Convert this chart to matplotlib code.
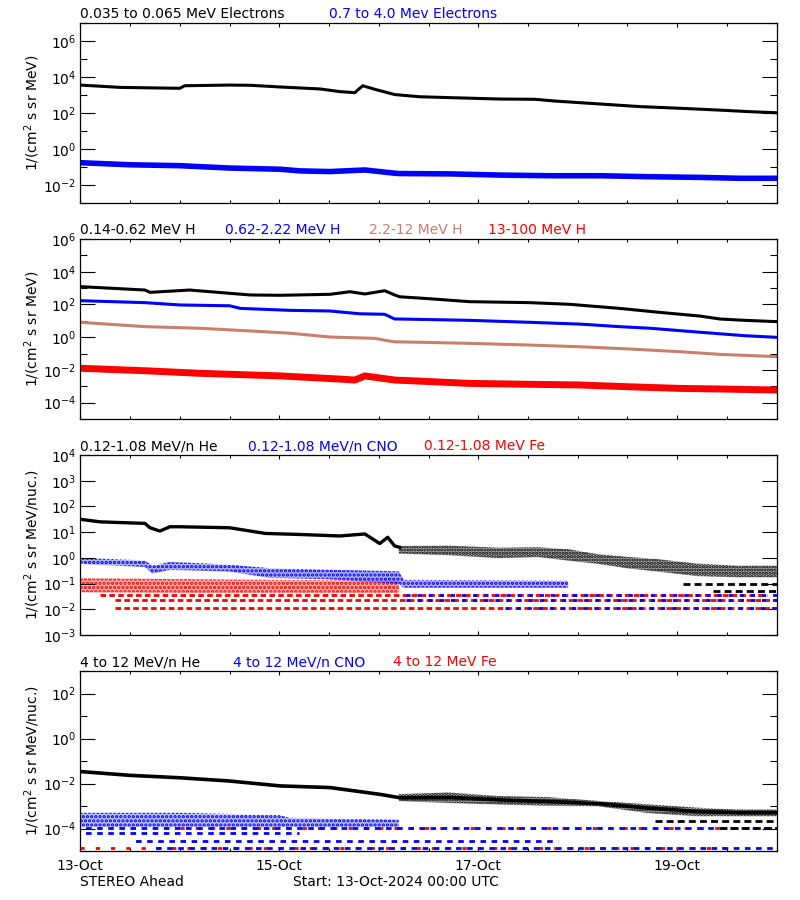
import numpy as np
import matplotlib
matplotlib.use('Agg')
import matplotlib.pyplot as plt
from matplotlib.ticker import FixedLocator, FuncFormatter, NullFormatter

plt.rcParams['font.family'] = ['DejaVu Sans']
plt.rcParams['mathtext.default'] = 'regular'
plt.rcParams['hatch.linewidth'] = 1.6

BROWN = '#c8806a'

# ---------------- Panel 1: electrons (time in days since 13-Oct 00:00) ----------
e1_t = [0, 0.40, 1.0, 1.05, 1.50, 1.71, 2.01, 2.41, 2.61, 2.76, 2.79, 2.84, 2.96,
        3.16, 3.41, 3.72, 4.22, 4.57, 4.77, 5.22, 5.63, 6.03, 6.43, 6.73, 7.0]
e1_low = [3700, 2750, 2450, 3400, 3700, 3600, 2900, 2250, 1600, 1400, 2000, 3400, 2150,
          1100, 830, 740, 620, 600, 480, 330, 235, 190, 150, 123, 107]
e2_t = [0, 0.5, 1.0, 1.5, 2.01, 2.21, 2.51, 2.86, 3.16, 3.21, 3.72, 4.22, 4.72, 5.22,
        5.72, 6.23, 6.63, 7.0]
e2_high = [0.18, 0.138, 0.123, 0.091, 0.078, 0.063, 0.058, 0.071, 0.047, 0.045, 0.043,
           0.037, 0.034, 0.034, 0.030, 0.0275, 0.0245, 0.0245]

# ---------------- Panel 2: protons ----------------
h1_t = [0, 0.65, 0.70, 1.10, 1.50, 1.71, 2.01, 2.51, 2.71, 2.86, 3.06, 3.16, 3.21, 3.51,
        3.91, 4.52, 4.92, 5.42, 5.82, 6.23, 6.43, 6.68, 7.0]
h1 = [1230, 760, 550, 760, 480, 380, 363, 417, 600, 437, 690, 380, 295, 224, 148, 129,
      102, 57.5, 33, 19.5, 12.9, 10.7, 8.9]
h2_t = [0, 0.65, 1.0, 1.5, 1.61, 2.11, 2.51, 2.81, 3.06, 3.16, 3.21, 3.91, 4.52, 5.02,
        5.42, 5.73, 6.23, 6.68, 7.0]
h2 = [170, 129, 93, 83, 57.5, 43.6, 39.8, 26.9, 25.1, 12.9, 12.9, 10.7, 8.1, 6.3, 4.4,
      3.5, 2.0, 1.23, 0.98]
h3_t = [0, 0.65, 1.2, 1.71, 2.11, 2.51, 2.96, 3.06, 3.16, 3.41, 3.91, 4.52, 5.02, 5.52,
        6.03, 6.43, 7.0]
h3 = [8.1, 4.4, 3.5, 2.4, 1.74, 1.02, 0.85, 0.65, 0.52, 0.49, 0.42, 0.33, 0.26, 0.19,
      0.129, 0.089, 0.065]
h4_t = [0, 0.65, 1.2, 2.01, 2.61, 2.76, 2.86, 3.16, 3.31, 3.91, 4.52, 5.02, 5.52, 6.03,
        6.43, 7.0]
h4 = [0.0126, 0.0089, 0.0062, 0.0043, 0.00275, 0.0024, 0.0043, 0.0024, 0.0022, 0.0015,
      0.00132, 0.0012, 0.00093, 0.00074, 0.00068, 0.00059]

# ---------------- Panel 3: 0.12-1.08 MeV/n ions ----------------
he3_t = [0, 0.20, 0.65, 0.70, 0.80, 0.90, 1.0, 1.5, 1.86, 2.21, 2.61, 2.86, 3.01, 3.09,
         3.16, 3.21]
he3 = [31.6, 25.1, 21.9, 14.8, 11, 16.2, 16.2, 14.8, 8.9, 8.1, 7.1, 8.5, 3.6, 6.3, 2.9, 2.57]
he3_env_t = [3.2, 3.7, 4.2, 4.6, 4.9, 5.2, 5.5, 5.8, 6.2, 6.6, 7.0]
he3_env_hi = [2.9, 3.0, 2.5, 2.6, 2.2, 1.4, 1.1, 0.9, 0.6, 0.5, 0.5]
he3_env_lo = [1.5, 1.3, 1.0, 1.1, 0.8, 0.6, 0.4, 0.3, 0.2, 0.18, 0.18]
he3_levels = [0.1, 0.051]
he3_level_spans = [(6.06, 7.0), (6.36, 7.0)]

cno3_env_t = [0, 0.65, 0.72, 0.9, 1.5, 1.9, 2.5, 3.2, 3.25, 4.9]
cno3_env_hi = [1.0, 0.8, 0.5, 0.7, 0.55, 0.4, 0.35, 0.3, 0.14, 0.13]
cno3_env_lo = [0.6, 0.45, 0.25, 0.35, 0.3, 0.17, 0.15, 0.1, 0.07, 0.07]
cno3_levels = [0.035, 0.023, 0.0115]
cno3_level_spans = [(3.2, 7.0), (3.2, 7.0), (4.2, 7.0)]

fe3_env_t = [0, 1.0, 2.0, 3.2]
fe3_env_hi = [0.16, 0.15, 0.14, 0.13]
fe3_env_lo = [0.047, 0.045, 0.045, 0.045]
fe3_levels = [0.035, 0.023, 0.0115]
fe3_level_spans = [(0.2, 6.9), (0.35, 7.0), (0.35, 7.0)]

# ---------------- Panel 4: 4-12 MeV/n ions ----------------
he4_t = [0, 0.5, 1.0, 1.5, 2.01, 2.51, 3.01, 3.21, 3.72, 4.22, 4.72, 5.22, 5.72, 6.23,
         6.63, 7.0]
he4 = [0.034, 0.023, 0.018, 0.0129, 0.0078, 0.0066, 0.0033, 0.00234, 0.0024, 0.00186,
       0.00158, 0.00126, 0.0008, 0.00056, 0.0005, 0.0005]
he4_env_t = [3.2, 3.7, 4.2, 4.7, 5.2, 5.7, 6.2, 6.6, 7.0]
he4_env_hi = [0.0034, 0.004, 0.0028, 0.0025, 0.0017, 0.0012, 0.00085, 0.0007, 0.0007]
he4_env_lo = [0.0017, 0.0014, 0.0012, 0.00105, 0.00100, 0.0005, 0.00036, 0.00036, 0.00036]
he4_levels = [2.15e-4, 1.1e-4]
he4_level_spans = [(5.78, 7.0), (6.43, 7.0)]

cno4_env_t = [0, 1.0, 2.0, 2.1, 3.2]
cno4_env_hi = [5e-4, 5e-4, 4e-4, 3e-4, 2.5e-4]
cno4_env_lo = [1.2e-4, 1.2e-4, 1.2e-4, 1.2e-4, 1.2e-4]
cno4_levels = [1.1e-4, 6.6e-5, 2.8e-5, 1.35e-5]
cno4_level_spans = [(0.0, 7.0), (0.0, 2.2), (0.5, 4.8), (0.7, 7.0)]

fe4_levels = [1.1e-4, 1.35e-5]
fe4_level_spans = [(1.0, 6.7), (0.0, 6.5)]

# ---------------- figure ----------------
fig = plt.figure(figsize=(8, 9), dpi=100)
L, W, H = 80.3 / 800, 696.4 / 800, 180 / 900
bottoms = [1 - 203.3 / 900, 1 - 419 / 900, 1 - 635 / 900, 1 - 851 / 900]
axes = [fig.add_axes([L, b, W, H]) for b in bottoms]

ylims = [(1e-3, 1e7), (1e-5, 1e6), (1e-3, 1e4), (1e-5, 1e3)]
label_exps = [list(range(-2, 7, 2)), list(range(-4, 7, 2)), list(range(-3, 5)),
              list(range(-4, 3, 2))]
minor_exps = [list(range(-3, 8, 2)), list(range(-5, 6, 2)), [], list(range(-5, 4, 2))]
ylabels = ['1/(cm$^2$ s sr MeV)', '1/(cm$^2$ s sr MeV)',
           '1/(cm$^2$ s sr MeV/nuc.)', '1/(cm$^2$ s sr MeV/nuc.)']

fmt = FuncFormatter(lambda v, p: r'10$^{%d}$' % int(round(np.log10(v))))
for i, ax in enumerate(axes):
    ax.set_yscale('log')
    ax.set_ylim(*ylims[i])
    ax.set_xlim(0, 7)
    ax.yaxis.set_major_locator(FixedLocator([10.0 ** e for e in label_exps[i]]))
    ax.yaxis.set_minor_locator(FixedLocator([10.0 ** e for e in minor_exps[i]]))
    ax.yaxis.set_major_formatter(fmt)
    ax.yaxis.set_minor_formatter(NullFormatter())
    ax.xaxis.set_major_locator(FixedLocator([0, 2, 4, 6]))
    ax.xaxis.set_minor_locator(FixedLocator(np.arange(0, 7.01, 0.5)))
    ax.tick_params(axis='y', which='major', direction='in', length=10.8, width=0.8,
                   left=True, right=True, labelsize=10, pad=3)
    ax.tick_params(axis='y', which='minor', direction='in', length=5.2, width=0.8,
                   left=True, right=True)
    ax.tick_params(axis='x', which='major', direction='in', length=3.2, width=0.8,
                   top=True, bottom=True, labelsize=10, pad=6)
    ax.tick_params(axis='x', which='minor', direction='in', length=2.0, width=0.8,
                   top=True, bottom=True)
    for s in ax.spines.values():
        s.set_linewidth(0.9)
    ax.set_ylabel(ylabels[i], fontsize=10)
    ax.yaxis.set_label_coords(-0.055, 0.5)
    if i < 3:
        ax.set_xticklabels([])
    else:
        ax.set_xticklabels(['13-Oct', '15-Oct', '17-Oct', '19-Oct'])


def title(ax, txt, xpix, color):
    ax.annotate(txt, xy=(0, 1), xycoords='axes fraction',
                xytext=((xpix - 80.3) * 0.72, 3.6), textcoords='offset points',
                ha='left', va='baseline', fontsize=10, color=color)


def levels(ax, vals, spans, color, dash):
    for v, (a, b) in zip(vals, spans):
        ax.plot([a, b], [v, v], color=color, lw=2.0, linestyle=dash,
                solid_capstyle='butt', dash_capstyle='butt')


def speckle(ax, t, lo, hi, color, alpha, hatch):
    ax.fill_between(t, lo, hi, color=color, alpha=alpha, lw=0)
    ax.fill_between(t, lo, hi, facecolor='none', edgecolor=color, hatch=hatch, lw=0)


# Panel 1
ax = axes[0]
ax.plot(e1_t, e1_low, color='black', lw=2.2)
ax.plot(e2_t, e2_high, color='blue', lw=4.0)
title(ax, '0.035 to 0.065 MeV Electrons', 80.3, 'black')
title(ax, '0.7 to 4.0 Mev Electrons', 329, 'blue')

# Panel 2
ax = axes[1]
ax.plot(h1_t, h1, color='black', lw=2.2)
ax.plot(h2_t, h2, color='blue', lw=2.2)
ax.plot(h3_t, h3, color=BROWN, lw=2.2)
ax.plot(h4_t, h4, color='red', lw=5.0)
title(ax, '0.14-0.62 MeV H', 80.3, 'black')
title(ax, '0.62-2.22 MeV H', 225, 'blue')
title(ax, '2.2-12 MeV H', 369, BROWN)
title(ax, '13-100 MeV H', 488, 'red')

# Panel 3
ax = axes[2]
levels(ax, fe3_levels, fe3_level_spans, 'red', (0, (2.0, 1.2)))
levels(ax, cno3_levels, cno3_level_spans, 'blue', (1.5, (1.5, 2.5)))
levels(ax, he3_levels, he3_level_spans, 'black', (0, (2.5, 1.5)))
speckle(ax, fe3_env_t, fe3_env_lo, fe3_env_hi, 'red', 0.3, '....')
speckle(ax, cno3_env_t, cno3_env_lo, cno3_env_hi, 'blue', 0.3, '....')
speckle(ax, he3_env_t, he3_env_lo, he3_env_hi, 'black', 0.3, '.....')
ax.plot(he3_t, he3, color='black', lw=2.4)
title(ax, '0.12-1.08 MeV/n He', 80.3, 'black')
title(ax, '0.12-1.08 MeV/n CNO', 248, 'blue')
title(ax, '0.12-1.08 MeV Fe', 424, 'red')

# Panel 4
ax = axes[3]
levels(ax, fe4_levels, fe4_level_spans, 'red', (0, (1.5, 4.0)))
levels(ax, cno4_levels, cno4_level_spans, 'blue', (2.0, (2.0, 2.0)))
levels(ax, he4_levels, he4_level_spans, 'black', (0, (2.5, 1.5)))
speckle(ax, cno4_env_t, cno4_env_lo, cno4_env_hi, 'blue', 0.25, '....')
speckle(ax, he4_env_t, he4_env_lo, he4_env_hi, 'black', 0.3, '.....')
ax.plot(he4_t, he4, color='black', lw=2.6)
title(ax, '4 to 12 MeV/n He', 80.3, 'black')
title(ax, '4 to 12 MeV/n CNO', 232.7, 'blue')
title(ax, '4 to 12 MeV Fe', 393, 'red')

fig.text(80.3 / 800, 1 - 886 / 900, 'STEREO Ahead', fontsize=10, ha='left', va='baseline')
fig.text(293 / 800, 1 - 886 / 900, 'Start: 13-Oct-2024 00:00 UTC', fontsize=10,
         ha='left', va='baseline')

fig.savefig('out.png', dpi=100)
